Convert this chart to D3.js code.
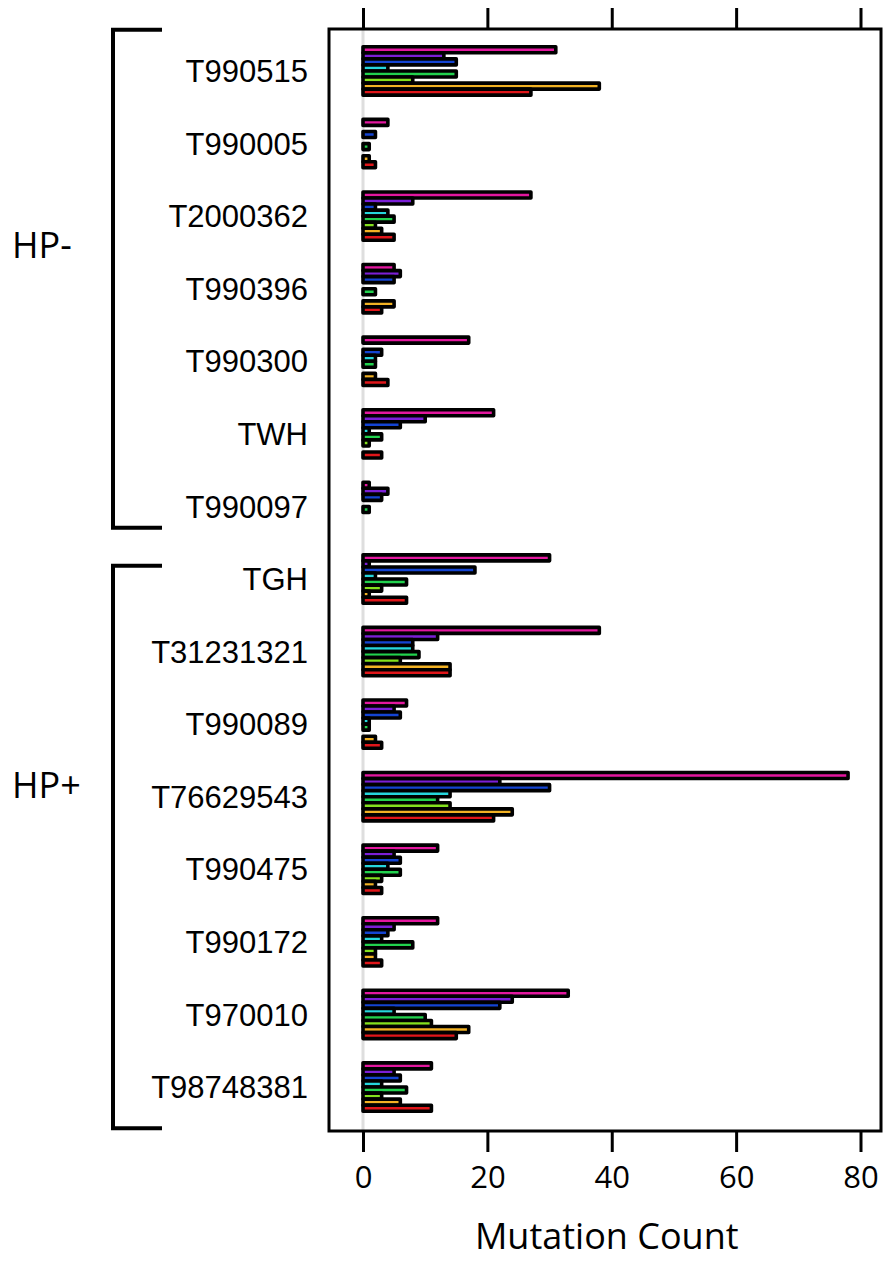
<!DOCTYPE html>
<html>
<head>
<meta charset="utf-8">
<script src="https://cdn.jsdelivr.net/npm/d3@7"></script>
<style>
  html, body { margin: 0; padding: 0; background: #fff; }
  svg { display: block; }
</style>
</head>
<body>
<svg id="chart" width="885" height="1261"></svg>
<script>
// Tumour samples, top to bottom
const samples = ["T990515", "T990005", "T2000362", "T990396", "T990300", "TWH", "T990097",
                 "TGH", "T31231321", "T990089", "T76629543", "T990475", "T990172", "T970010", "T98748381"];

// Sample groups (first and last sample of each bracket)
const groups = [
  { name: "HP-", first: "T990515", last: "T990097" },
  { name: "HP+", first: "TGH", last: "T98748381" }
];

// Mutation counts per sample, one array per mutation class (drawn top to bottom in each group)
const magentaCounts = [31, 4, 27, 5, 17, 21, 1, 30, 38, 7, 78, 12, 12, 33, 11];
const purpleCounts  = [13, 0, 8, 6, 0, 10, 4, 1, 12, 5, 22, 5, 5, 24, 5];
const blueCounts    = [15, 2, 2, 5, 3, 6, 3, 18, 8, 6, 30, 6, 4, 22, 6];
const cyanCounts    = [4, 0, 4, 0, 2, 1, 0, 2, 8, 1, 14, 4, 3, 5, 3];
const greenCounts   = [15, 1, 5, 2, 2, 3, 1, 7, 9, 1, 12, 6, 8, 10, 7];
const limeCounts    = [8, 0, 2, 0, 0, 1, 0, 3, 6, 0, 14, 3, 2, 11, 3];
const orangeCounts  = [38, 1, 3, 5, 2, 0, 0, 1, 14, 2, 24, 2, 2, 17, 6];
const redCounts     = [27, 2, 5, 3, 4, 3, 0, 7, 14, 3, 21, 3, 3, 15, 11];

const seriesValues = [magentaCounts, purpleCounts, blueCounts, cyanCounts,
                      greenCounts, limeCounts, orangeCounts, redCounts];
const seriesColors = ["#e3179f", "#7b1fd6", "#1444d2", "#26d6dc",
                      "#22d24e", "#84e01e", "#f2b224", "#e0161a"];

const xTicks = [0, 20, 40, 60, 80];
const xTitle = "Mutation Count";

const svg = d3.select("#chart");

// Plot frame
const frame = { left: 329, right: 881, top: 29, bottom: 1131 };

const x = d3.scaleLinear().domain([0, 80]).range([363, 860.5]);

const y = d3.scaleBand().domain(samples).range([34.7, 1123.3]).padding(0);
const step = y.step();

const sub = d3.scaleBand()
  .domain(d3.range(seriesValues.length))
  .range([-24.2, 24.2])
  .padding(0);

// Light zero reference line
svg.append("line")
  .attr("x1", x(0)).attr("x2", x(0))
  .attr("y1", frame.top).attr("y2", frame.bottom)
  .attr("stroke", "#dedede").attr("stroke-width", 3);

// Bars: black-outlined, coloured core
const barH = 6;
const rows = [];
samples.forEach((s, i) => {
  seriesValues.forEach((vals, k) => {
    rows.push({ sample: s, k, value: vals[i] });
  });
});

svg.append("g").selectAll("rect")
  .data(rows)
  .join("rect")
  .attr("x", x(0))
  .attr("y", d => y(d.sample) + step / 2 + sub(d.k) + sub.bandwidth() / 2 - barH / 2)
  .attr("width", d => x(d.value) - x(0))
  .attr("height", barH)
  .attr("fill", d => seriesColors[d.k])
  .attr("stroke", "#000")
  .attr("stroke-width", 3.6)
  .attr("stroke-linejoin", "round");

// Frame
svg.append("rect")
  .attr("x", frame.left).attr("y", frame.top)
  .attr("width", frame.right - frame.left)
  .attr("height", frame.bottom - frame.top)
  .attr("fill", "none").attr("stroke", "#000").attr("stroke-width", 3);

// Top axis ticks (no labels)
const topAxis = svg.append("g")
  .attr("transform", `translate(0,${frame.top})`)
  .call(d3.axisTop(x).tickValues(xTicks).tickSize(21).tickFormat(""));
topAxis.select(".domain").remove();
topAxis.selectAll(".tick line").attr("stroke", "#000").attr("stroke-width", 3);

// Bottom axis
const bottomAxis = svg.append("g")
  .attr("transform", `translate(0,${frame.bottom})`)
  .call(d3.axisBottom(x).tickValues(xTicks).tickSize(21).tickPadding(14));
bottomAxis.select(".domain").remove();
bottomAxis.selectAll(".tick line").attr("stroke", "#000").attr("stroke-width", 3);
bottomAxis.selectAll(".tick text")
  .attr("fill", "#000")
  .style("font-family", "'Open Sans', sans-serif")
  .style("font-size", "31px");

// Axis title
svg.append("text")
  .attr("x", (x(0) + x(80)) / 2 - 5)
  .attr("y", 1249)
  .attr("text-anchor", "middle")
  .style("font-family", "'Open Sans', sans-serif")
  .style("font-size", "36px")
  .text(xTitle);

// Sample labels
svg.append("g").selectAll("text")
  .data(samples)
  .join("text")
  .attr("x", 308)
  .attr("y", d => y(d) + step / 2)
  .attr("dy", "0.36em")
  .attr("text-anchor", "end")
  .style("font-family", "'Liberation Sans', Arial, sans-serif")
  .style("font-size", "31px")
  .text(d => d);

// Group brackets and labels
const bracketX = 113, bracketArm = 49;
const bracketSpans = [
  { top: y(groups[0].first) - 5, bottom: y(groups[0].last) + step - 15, labelY: y(samples[0]) + step / 2 + 2.4 * step },
  { top: y(groups[1].first) + 23, bottom: y(groups[1].last) + step + 5, labelY: y(samples[0]) + step / 2 + 9.84 * step }
];
groups.forEach((g, i) => {
  const b = bracketSpans[i];
  svg.append("path")
    .attr("d", `M${bracketX + bracketArm},${b.top} H${bracketX} V${b.bottom} H${bracketX + bracketArm}`)
    .attr("fill", "none").attr("stroke", "#000").attr("stroke-width", 4);
  svg.append("text")
    .attr("x", 12)
    .attr("y", b.labelY)
    .attr("dy", "0.36em")
    .style("font-family", "'Open Sans', sans-serif")
    .style("font-size", "36px")
    .text(g.name);
});
</script>
</body>
</html>
